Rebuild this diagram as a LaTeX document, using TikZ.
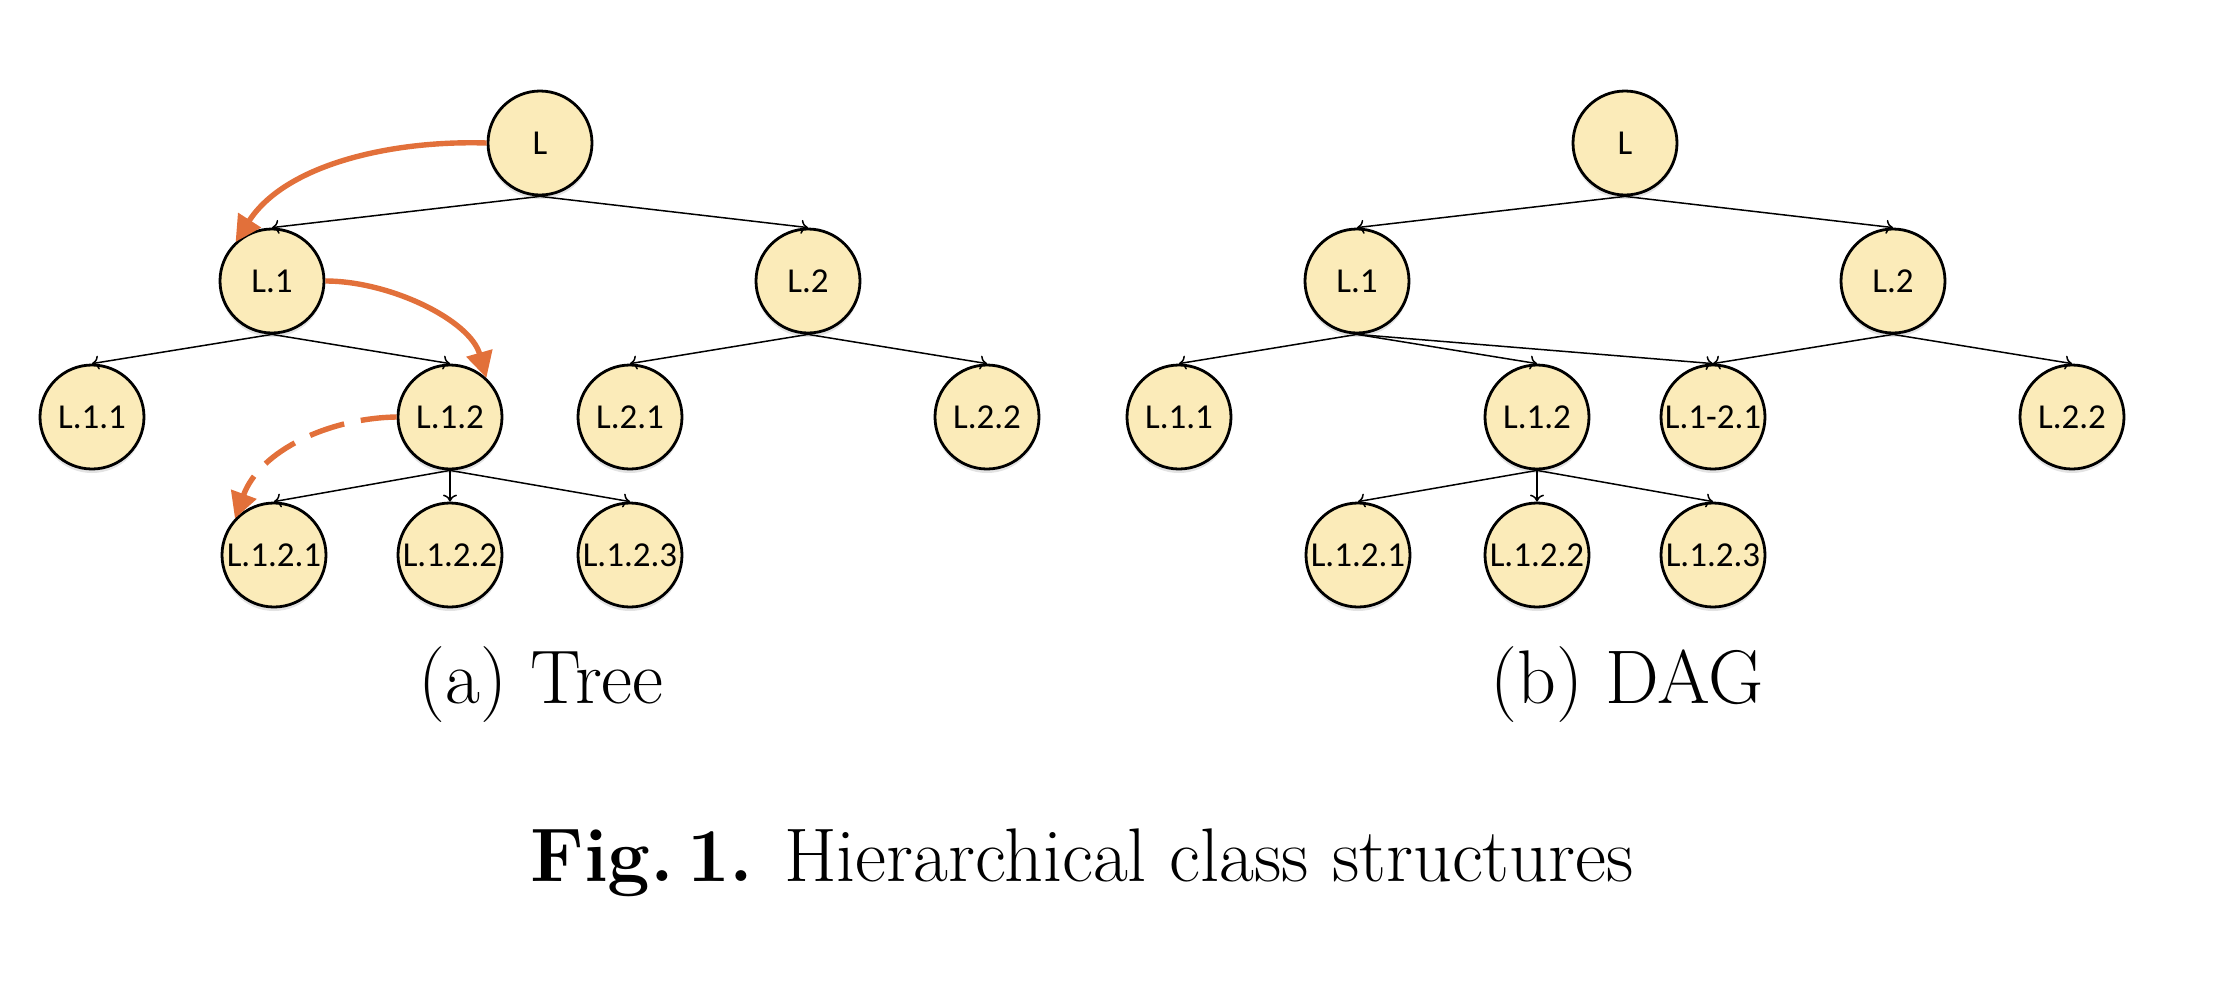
\documentclass[tikz,border=0pt]{standalone}
\usepackage{fontspec}
\setmainfont{Latin Modern Roman}
\newfontfamily\nodefont{Carlito}
\usetikzlibrary{arrows.meta,shadows}
\definecolor{nodefill}{HTML}{FBEBB9}
\definecolor{hlorange}{HTML}{E2703A}
\begin{document}
\begin{tikzpicture}[x=0.5pt,y=-0.5pt,
  cls/.style={circle,draw=black,line width=1.4pt,fill=nodefill,minimum size=52pt,inner sep=0pt,
    font=\nodefont\fontsize{17.5}{20}\selectfont,
    drop shadow={shadow xshift=0pt,shadow yshift=-2pt,opacity=0.18,fill=black!60}},
  treeedge/.style={line width=0.75pt,-{To[length=3.5pt,width=7pt]}},
  hl/.style={draw=hlorange,line width=2.7pt,-{Triangle[length=13pt,width=13pt]}},
  hldash/.style={hl,dash pattern=on 18pt off 8.5pt},
  captext/.style={anchor=base,font=\fontsize{38}{44}\selectfont}]
\useasboundingbox (0,0) rectangle (2224,986);
% ---------- (a) Tree ----------
\node[cls] (aL)    at (540,143) {L};
\node[cls] (aL1)   at (272,281) {L.1};
\node[cls] (aL2)   at (808,281) {L.2};
\node[cls] (aL11)  at (92,417)  {L.1.1};
\node[cls] (aL12)  at (450,417) {L.1.2};
\node[cls] (aL21)  at (630,417) {L.2.1};
\node[cls] (aL22)  at (987,417) {L.2.2};
\node[cls] (aL121) at (274,555) {L.1.2.1};
\node[cls] (aL122) at (450,555) {L.1.2.2};
\node[cls] (aL123) at (630,555) {L.1.2.3};
\foreach \p/\c in {aL/aL1,aL/aL2,aL1/aL11,aL1/aL12,aL2/aL21,aL2/aL22,aL12/aL121,aL12/aL122,aL12/aL123}
  \draw[treeedge] (\p.south) -- (\c.north);
\draw[hl] (aL.west) .. controls (390,140) and (285,165) .. (aL1.133);
\draw[hl] (aL1.east) .. controls (390,281) and (470,320) .. (aL12.47);
\draw[hldash] (aL12.west) .. controls (330,418) and (260,450) .. (aL121.137);
\node[captext] (capa) at (541,703) {(a) Tree};
% ---------- (b) DAG ----------
\node[cls] (bL)    at (1625,143) {L};
\node[cls] (bL1)   at (1357,281) {L.1};
\node[cls] (bL2)   at (1893,281) {L.2};
\node[cls] (bL11)  at (1179,417) {L.1.1};
\node[cls] (bL12)  at (1537,417) {L.1.2};
\node[cls] (bL121x) at (1713,417) {L.1-2.1};
\node[cls] (bL22)  at (2072,417) {L.2.2};
\node[cls] (bL121) at (1358,555) {L.1.2.1};
\node[cls] (bL122) at (1537,555) {L.1.2.2};
\node[cls] (bL123) at (1713,555) {L.1.2.3};
\foreach \p/\c in {bL/bL1,bL/bL2,bL1/bL11,bL1/bL12,bL1/bL121x,bL2/bL121x,bL2/bL22,bL12/bL121,bL12/bL122,bL12/bL123}
  \draw[treeedge] (\p.south) -- (\c.north);
\node[captext] (capb) at (1627,703) {(b) DAG};
% ---------- caption ----------
\node[captext] (fig) at (1082,881) {\textbf{Fig.\,1.} Hierarchical class structures};
\end{tikzpicture}
\end{document}
